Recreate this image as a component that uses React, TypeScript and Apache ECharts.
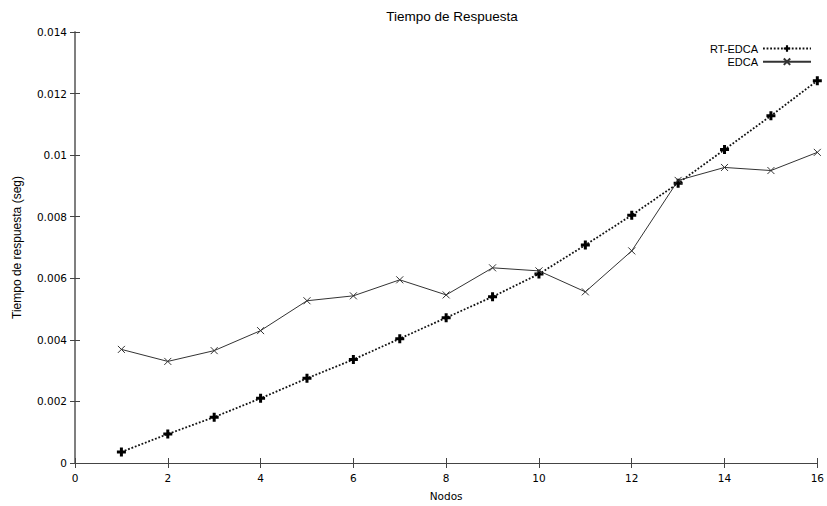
import React, { useEffect, useRef } from "react";
import * as echarts from "echarts";

const nodos = [1, 2, 3, 4, 5, 6, 7, 8, 9, 10, 11, 12, 13, 14, 15, 16];
const rtEdca = [0.00036, 0.00094, 0.00149, 0.0021, 0.00275, 0.00336, 0.00404, 0.00472, 0.0054, 0.00614, 0.00708, 0.00805, 0.00909, 0.01018, 0.01128, 0.01242];
const edca = [0.00369, 0.0033, 0.00365, 0.0043, 0.00527, 0.00543, 0.00595, 0.00546, 0.00634, 0.00624, 0.00556, 0.00689, 0.00918, 0.0096, 0.0095, 0.01009];

const PLUS = "path://M3,0L6,0L6,3L9,3L9,6L6,6L6,9L3,9L3,6L0,6L0,3L3,3Z";
const CROSS = "path://M0,0L10,10M10,0L0,10";

export default function App() {
  const ref = useRef<HTMLDivElement>(null);
  useEffect(() => {
    if (!ref.current) return;
    const chart = echarts.init(ref.current, undefined, { renderer: "svg" });
    const axisColor = "#444";
    const labelStyle = { fontFamily: "DejaVu Sans", fontSize: 10.5, color: "#000" };
    chart.setOption({
      animation: false,
      backgroundColor: "#fff",
      title: {
        text: "Tiempo de Respuesta",
        left: 447,
        textAlign: "center",
        top: 4,
        textStyle: { fontFamily: "Liberation Sans", fontSize: 13.5, fontWeight: "normal", color: "#000" },
      },
      grid: { left: 75, right: 8, top: 32, bottom: 41 },
      legend: {
        right: 10,
        top: 38,
        orient: "vertical",
        align: "right",
        itemWidth: 48,
        itemHeight: 8,
        itemGap: 2,
        textStyle: { fontFamily: "Liberation Sans", fontSize: 11, color: "#000" },
        data: ["RT-EDCA", "EDCA"],
      },
      xAxis: [
        {
          type: "value",
          min: 0,
          max: 16,
          interval: 2,
          name: "Nodos",
          nameLocation: "middle",
          nameGap: 27,
          nameTextStyle: { fontFamily: "DejaVu Sans", fontSize: 10.5, color: "#000" },
          axisLine: { lineStyle: { color: axisColor, width: 1.2 } },
          axisTick: { inside: true, length: 5, lineStyle: { color: axisColor } },
          axisLabel: { ...labelStyle, margin: 9 },
          splitLine: { show: false },
        },
        {
          type: "value",
          position: "top",
          min: 0,
          max: 16,
          interval: 2,
          axisLine: { show: true, lineStyle: { color: axisColor, width: 1.2 } },
          axisTick: { show: true, inside: true, length: 5, lineStyle: { color: axisColor } },
          axisLabel: { show: false },
          splitLine: { show: false },
        },
      ],
      yAxis: [
        {
          type: "value",
          min: 0,
          max: 0.014,
          interval: 0.002,
          name: "Tiempo de respuesta (seg)",
          nameLocation: "middle",
          nameGap: 52,
          nameTextStyle: { fontFamily: "Liberation Sans", fontSize: 12, color: "#000" },
          axisLine: { show: true, lineStyle: { color: "#777", width: 1.5 } },
          axisTick: { show: true, inside: true, length: 5, lineStyle: { color: axisColor } },
          axisLabel: {
            ...labelStyle,
            margin: 8,
            formatter: (v: number) => (v === 0 ? "0" : String(+v.toFixed(3))),
          },
          splitLine: { show: false },
        },
        {
          type: "value",
          position: "right",
          min: 0,
          max: 0.014,
          interval: 0.002,
          axisLine: { show: true, lineStyle: { color: "#777", width: 1.5 } },
          axisTick: { show: true, inside: true, length: 5, lineStyle: { color: axisColor } },
          axisLabel: { show: false },
          splitLine: { show: false },
        },
      ],
      series: [
        {
          name: "RT-EDCA",
          type: "line",
          data: nodos.map((n, i) => [n, rtEdca[i]]),
          symbol: PLUS,
          symbolSize: 9,
          itemStyle: { color: "#000" },
          lineStyle: { color: "#111", width: 1.8, type: [1.8, 1.8] },
        },
        {
          name: "EDCA",
          type: "line",
          data: nodos.map((n, i) => [n, edca[i]]),
          symbol: CROSS,
          symbolSize: 7,
          itemStyle: { color: "none", borderColor: "#333", borderWidth: 1 },
          lineStyle: { color: "#333", width: 1 },
        },
      ],
    });
    return () => chart.dispose();
  }, []);
  return <div ref={ref} style={{ width: 827, height: 506, position: "absolute", left: 0, top: 0 }} />;
}
